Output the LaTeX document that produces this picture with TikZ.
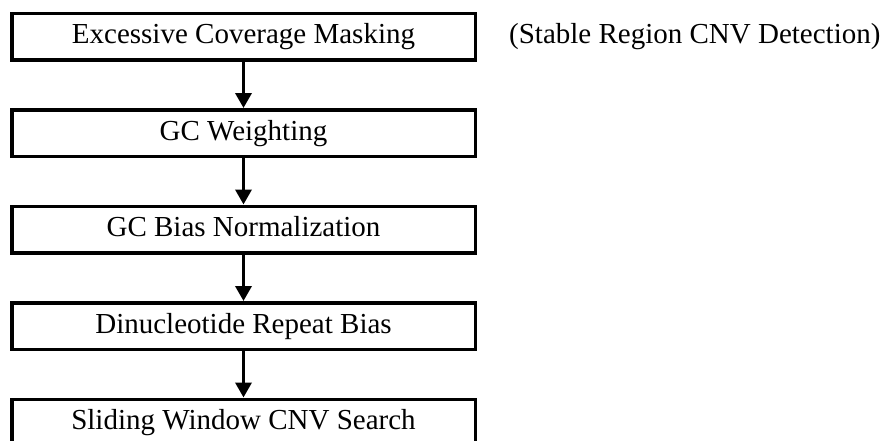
\documentclass[tikz,border=0pt]{standalone}
\usepackage{fontspec}
\setmainfont{Liberation Serif}
\usetikzlibrary{positioning,arrows.meta}

\begin{document}
\begin{tikzpicture}[x=1pt,y=1pt,
  stepbox/.style={draw,line width=3.5pt,minimum width=463.5pt,minimum height=46.5pt,inner sep=0pt,text height=20pt,text depth=6pt,font=\fontsize{29}{34}\selectfont},
  flow/.style={line width=3.5pt,-{Triangle[width=16pt,length=15pt]}},
  node distance=46.5pt]
\clip (0,0) rectangle (887,-440);
\node[stepbox] (mask) at (243.5,-36.5) {Excessive Coverage Masking};
\node[stepbox,below=of mask] (gcw) {GC Weighting};
\node[stepbox,below=of gcw] (gcnorm) {GC Bias Normalization};
\node[stepbox,below=of gcnorm] (dinuc) {Dinucleotide Repeat Bias};
\node[stepbox,below=of dinuc] (slide) {Sliding Window CNV Search};
\node[right=32pt of mask,inner sep=0pt,text height=20pt,text depth=6pt,font=\fontsize{29}{34}\selectfont] (note) {(Stable Region CNV Detection)};
\draw[flow] (mask) -- (gcw);
\draw[flow] (gcw) -- (gcnorm);
\draw[flow] (gcnorm) -- (dinuc);
\draw[flow] (dinuc) -- (slide);
\end{tikzpicture}
\end{document}
